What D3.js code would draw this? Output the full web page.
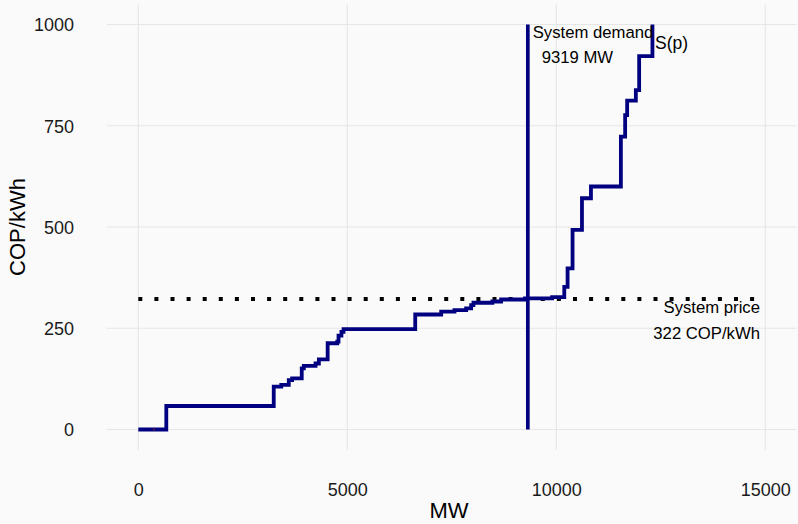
<!DOCTYPE html>
<html>
<head>
<meta charset="utf-8">
<script src="https://cdn.jsdelivr.net/npm/d3@7"></script>
<style>
  html, body { margin: 0; padding: 0; background: #fafafa; }
  svg { display: block; }
  text { font-family: "Liberation Sans", Arial, sans-serif; }
</style>
</head>
<body>
<svg id="chart" width="798" height="524"></svg>
<script>
// ---- data ----
const supplyMW  = [0, 670, 3240, 3420, 3600, 3680, 3910, 3960, 4240, 4320, 4530, 4760, 4790, 4860, 4910,
                   6625, 7246, 7564, 7843, 7963, 8018, 8470, 8680, 9250, 9900,
                   10191, 10270, 10389, 10614, 10829, 11545, 11647, 11695, 11903, 11982, 12300];
const supplyCOP = [0, 58, 106, 110, 122, 126, 151, 157, 163, 173, 213, 217, 232, 241, 248,
                   284, 291, 295, 299, 307, 313, 316, 321, 324, 327,
                   352, 398, 493, 571, 600, 723, 776, 812, 838, 922, 1000];
const redMW  = [365, 410];
const redCOP = [0, 0];
const demandMW = 9319;
const demandRange = [0, 1000];
const systemPrice = 322;
const priceRange = [0, 15000];
const xTicks = [0, 5000, 10000, 15000];
const yTicks = [0, 250, 500, 750, 1000];

// ---- layout ----
const svg = d3.select("#chart");
const W = 798, H = 524;
svg.append("rect").attr("width", W).attr("height", H).attr("fill", "#fafafa");

const xs = d3.scaleLinear().domain([-750, 15750]).range([106.95, 796.65]);
const ys = d3.scaleLinear().domain([-50, 1050]).range([449.75, 4.25]);

const g = svg.append("g");

// gridlines
g.append("g").selectAll("line").data(yTicks).join("line")
  .attr("x1", xs.range()[0]).attr("x2", xs.range()[1])
  .attr("y1", d => ys(d)).attr("y2", d => ys(d))
  .attr("stroke", "#e6e6e6").attr("stroke-width", 1.1);
g.append("g").selectAll("line").data(xTicks).join("line")
  .attr("y1", ys.range()[0]).attr("y2", ys.range()[1])
  .attr("x1", d => xs(d)).attr("x2", d => xs(d))
  .attr("stroke", "#e6e6e6").attr("stroke-width", 1.1);

// axes (labels only)
const xAxis = d3.axisBottom(xs).tickValues(xTicks).tickSize(0).tickPadding(0).tickFormat(d3.format("d"));
const xa = svg.append("g").attr("transform", "translate(0,483)").call(xAxis);
xa.select(".domain").remove();
xa.selectAll("text").attr("font-size", 18).attr("fill", "#1a1a1a")
  .attr("font-family", "Liberation Sans, Arial, sans-serif").attr("dy", "0.72em");

const yAxis = d3.axisLeft(ys).tickValues(yTicks).tickSize(0).tickPadding(0).tickFormat(d3.format("d"));
const ya = svg.append("g").attr("transform", "translate(74,0)").call(yAxis);
ya.select(".domain").remove();
ya.selectAll("text").attr("font-size", 18).attr("fill", "#1a1a1a")
  .attr("font-family", "Liberation Sans, Arial, sans-serif").attr("dy", "0.36em");

// axis titles
svg.append("text").attr("x", 449).attr("y", 518).attr("text-anchor", "middle")
  .attr("font-size", 22).attr("fill", "#000").text("MW");
svg.append("text").attr("transform", "translate(24.5,227) rotate(-90)")
  .attr("text-anchor", "middle").attr("font-size", 22).attr("fill", "#000").text("COP/kWh");

// system price dotted line
g.append("line")
  .attr("x1", xs(priceRange[0])).attr("x2", xs(priceRange[1]))
  .attr("y1", ys(systemPrice)).attr("y2", ys(systemPrice))
  .attr("stroke", "#000").attr("stroke-width", 4)
  .attr("stroke-dasharray", "4,12.1");

// supply curve
const supply = supplyMW.map((m, i) => [m, supplyCOP[i]]);
const line = d3.line().x(d => xs(d[0])).y(d => ys(d[1])).curve(d3.curveStepAfter);
g.append("path").datum(supply).attr("d", line)
  .attr("fill", "none").attr("stroke", "#000080").attr("stroke-width", 3.8)
  .attr("stroke-linejoin", "miter");

// tiny red segment
const red = redMW.map((m, i) => [m, redCOP[i]]);
g.append("path").datum(red).attr("d", d3.line().x(d => xs(d[0])).y(d => ys(d[1])))
  .attr("fill", "none").attr("stroke", "#cc3300").attr("stroke-width", 2)
  .attr("stroke-dasharray", "0.8,1.2");

// demand line
g.append("line")
  .attr("x1", xs(demandMW)).attr("x2", xs(demandMW))
  .attr("y1", ys(demandRange[0])).attr("y2", ys(demandRange[1]))
  .attr("stroke", "#000080").attr("stroke-width", 3.7);

// annotations
svg.append("text").attr("x", 532.7).attr("y", 37.5).attr("font-size", 16.7).attr("fill", "#000").text("System demand");
svg.append("text").attr("x", 541.7).attr("y", 62.5).attr("font-size", 16.7).attr("fill", "#000").text(demandMW + " MW");
svg.append("text").attr("x", 655).attr("y", 49).attr("font-size", 17.5).attr("fill", "#000").text("S(p)");
svg.append("text").attr("x", 760).attr("y", 313).attr("text-anchor", "end").attr("font-size", 16.7).attr("fill", "#000").text("System price");
svg.append("text").attr("x", 760).attr("y", 338.5).attr("text-anchor", "end").attr("font-size", 16.7).attr("fill", "#000").text(systemPrice + " COP/kWh");
</script>
</body>
</html>
